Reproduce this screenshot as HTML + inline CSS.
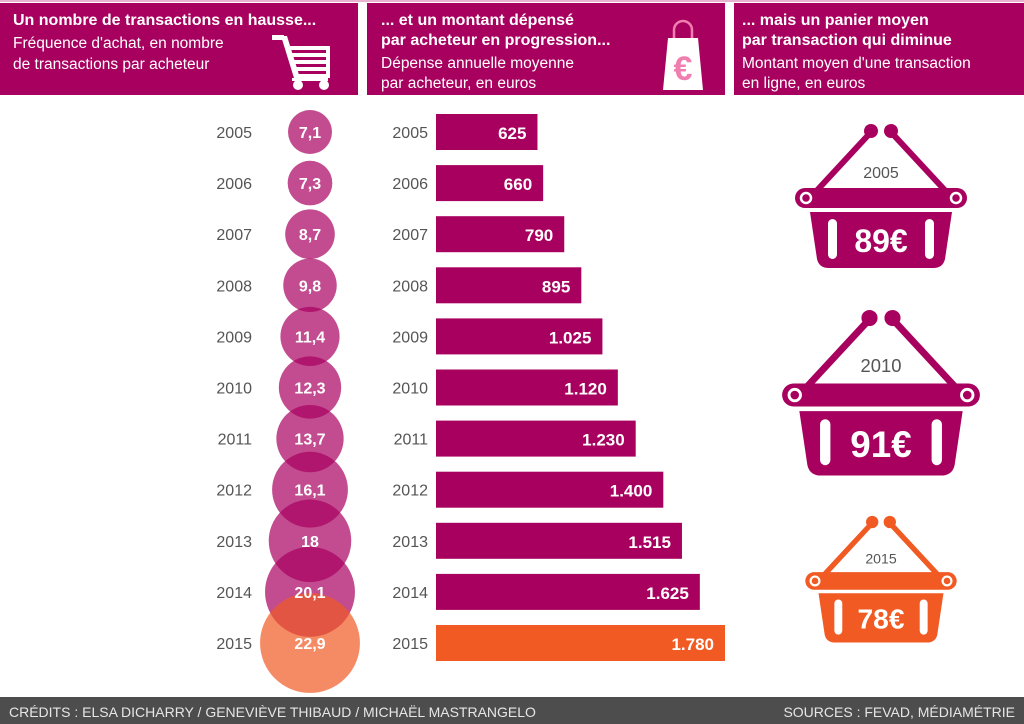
<!DOCTYPE html>
<html><head><meta charset="utf-8">
<style>
body{margin:0;width:1024px;height:724px;overflow:hidden;background:#fff;font-family:"Liberation Sans",sans-serif;}
svg{display:block}
</style></head>
<body>
<svg id="chart" width="1024" height="724">
  <rect x="0" y="0" width="1024" height="2" fill="#e9b3cf"/>
  <g>
    <rect x="0" y="3" width="358" height="92" fill="#a8005f"/>
    <text x="13" y="25" fill="#fff" font-size="16" font-weight="bold">Un nombre de transactions en hausse...</text>
    <text x="13" y="48" fill="#fff" font-size="15.5">Fréquence d'achat, en nombre</text>
    <text x="13" y="69" fill="#fff" font-size="15.5">de transactions  par acheteur</text>
    <g fill="#fff">
      <rect x="272" y="35" width="12" height="5"/>
      <polygon points="281,36 287,36 300,78 294,78"/>
      <rect x="287" y="46" width="43" height="4"/><rect x="289" y="53" width="40" height="4"/>
      <rect x="291" y="60" width="38" height="4"/><rect x="293" y="67" width="36" height="4"/>
      <rect x="295" y="74" width="34" height="4"/>
      <rect x="326" y="46" width="4" height="32"/>
      <rect x="292" y="78" width="36" height="3"/>
      <circle cx="298" cy="85" r="5"/><circle cx="324" cy="85" r="5"/>
    </g>
  </g>
  <g>
    <rect x="367" y="3" width="358" height="92" fill="#a8005f"/>
    <text x="381" y="25" fill="#fff" font-size="16" font-weight="bold">... et un montant dépensé</text>
    <text x="381" y="45" fill="#fff" font-size="16" font-weight="bold">par acheteur en progression...</text>
    <text x="381" y="68" fill="#fff" font-size="15.5">Dépense annuelle moyenne</text>
    <text x="381" y="88" fill="#fff" font-size="15.5">par acheteur, en euros</text>
    <g>
      <path d="M674,42 V30 a9,9 0 0 1 18,0 V42" stroke="#f07fb0" stroke-width="2.5" fill="none"/>
      <polygon points="668,38 698,38 703,90 663,90" fill="#fff"/>
      <text x="683" y="80" fill="#f07fb0" font-size="34" font-weight="bold" text-anchor="middle">€</text>
    </g>
  </g>
  <g>
    <rect x="734" y="3" width="290" height="92" fill="#a8005f"/>
    <text x="742" y="25" fill="#fff" font-size="16" font-weight="bold">... mais un panier moyen</text>
    <text x="742" y="45" fill="#fff" font-size="16" font-weight="bold">par transaction qui diminue</text>
    <text x="742" y="68" fill="#fff" font-size="15.5">Montant moyen d'une transaction</text>
    <text x="742" y="88" fill="#fff" font-size="15.5">en ligne, en euros</text>
  </g>
  <g id="bubbles"></g>
  <g id="bars"></g>
  <g id="baskets"></g>
  <g>
    <rect x="0" y="697" width="1024" height="27" fill="#4d4d4d"/>
    <text x="9" y="717" fill="#e6e6e6" font-size="14">CRÉDITS : ELSA DICHARRY / GENEVIÈVE THIBAUD / MICHAËL MASTRANGELO</text>
    <text x="1015" y="717" fill="#e6e6e6" font-size="14" text-anchor="end">SOURCES : FEVAD, MÉDIAMÉTRIE</text>
  </g>
</svg>
<script>
const years = ["2005","2006","2007","2008","2009","2010","2011","2012","2013","2014","2015"];
const frequency = [7.1,7.3,8.7,9.8,11.4,12.3,13.7,16.1,18,20.1,22.9];
const frequencyLabels = ["7,1","7,3","8,7","9,8","11,4","12,3","13,7","16,1","18","20,1","22,9"];
const spending = [625,660,790,895,1025,1120,1230,1400,1515,1625,1780];
const spendingLabels = ["625","660","790","895","1.025","1.120","1.230","1.400","1.515","1.625","1.780"];
const basketYears = ["2005","2010","2015"];
const basketValues = [89,91,78];

const NS="http://www.w3.org/2000/svg";
function mk(tag,attrs,parent){const e=document.createElementNS(NS,tag);for(const k in attrs)e.setAttribute(k,attrs[k]);parent.appendChild(e);return e;}
const rowY = i => 132 + i*51.1;
const rScale = v => 9.4 + 1.77*v;
const xScale = v => 436 + v*(289/1780);
const MAG="#a8005f", ORA="#f15a22";

const gB=document.getElementById('bubbles');
years.forEach((y,i)=>{
  const last=i===years.length-1;
  const t=mk('text',{x:252,y:rowY(i)+6,'font-size':16,fill:'#555','text-anchor':'end'},gB);t.textContent=y;
  
  
});
years.forEach((y,i)=>{
  const last=i===years.length-1;
  const c=mk('circle',{cx:310,cy:rowY(i),r:rScale(frequency[i]),fill:last?ORA:MAG,'fill-opacity':0.7},gB);
  
  
});
years.forEach((y,i)=>{
  const t=mk('text',{x:310,y:rowY(i)+6,'font-size':16,'font-weight':'bold',fill:'#fff','text-anchor':'middle'},gB);t.textContent=frequencyLabels[i];
  
  
});

const gR=document.getElementById('bars');
years.forEach((y,i)=>{
  const last=i===years.length-1;
  const t=mk('text',{x:428,y:rowY(i)+6,'font-size':16,fill:'#555','text-anchor':'end'},gR);t.textContent=y;
  
  
  const r=mk('rect',{x:436,y:rowY(i)-18,width:xScale(spending[i])-436,height:36,fill:last?ORA:MAG},gR);
  
  
  const v=mk('text',{x:xScale(spending[i])-11,y:rowY(i)+7,'font-size':17,'font-weight':'bold',fill:'#fff','text-anchor':'end'},gR);v.textContent=spendingLabels[i];
  
  
});

const gK=document.getElementById('baskets');
const basketPos=[{cx:881,top:131,s:1},{cx:881,top:318,s:1.15},{cx:881,top:522,s:0.88}];
basketYears.forEach((y,i)=>{
  const p=basketPos[i], col=i===2?ORA:MAG;
  const g=mk('g',{transform:`translate(${p.cx},${p.top}) scale(${p.s})`},gK);
  
  
  mk('line',{x1:-9,y1:0,x2:-72,y2:68,stroke:col,'stroke-width':6},g);
  mk('line',{x1:9,y1:0,x2:72,y2:68,stroke:col,'stroke-width':6},g);
  mk('circle',{cx:-10,cy:0,r:7,fill:col},g);
  mk('circle',{cx:10,cy:0,r:7,fill:col},g);
  mk('rect',{x:-86,y:57,width:172,height:20,rx:10,fill:col},g);
  mk('circle',{cx:-75,cy:67,r:5,fill:'none',stroke:'#fff','stroke-width':2.5},g);
  mk('circle',{cx:75,cy:67,r:5,fill:'none',stroke:'#fff','stroke-width':2.5},g);
  mk('path',{d:'M-71,81 H71 L64,128 Q62,137 52,137 H-52 Q-62,137 -64,128 Z',fill:col},g);
  mk('rect',{x:-53,y:88,width:9,height:40,rx:4.5,fill:'#fff'},g);
  mk('rect',{x:44,y:88,width:9,height:40,rx:4.5,fill:'#fff'},g);
  const yt=mk('text',{x:0,y:47,'font-size':16,fill:'#555','text-anchor':'middle'},g);yt.textContent=y;
  
  
  const vt=mk('text',{x:0,y:121,'font-size':32,'font-weight':'bold',fill:'#fff','text-anchor':'middle'},g);vt.textContent=basketValues[i]+'€';
  
  
});
</script>
</body></html>
